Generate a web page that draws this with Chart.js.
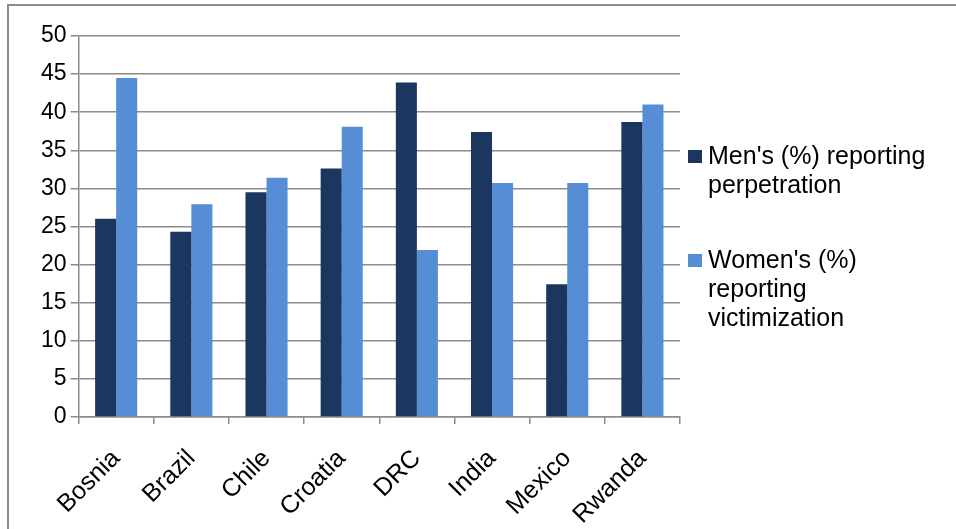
<!DOCTYPE html>
<html>
<head>
<meta charset="utf-8">
<script src="https://cdn.jsdelivr.net/npm/chart.js@4"></script>
<style>
  html, body { margin: 0; padding: 0; background: #fff; }
  #wrap { position: relative; width: 956px; height: 529px; overflow: hidden; }
  #frame { position: absolute; left: 7px; top: 4px; width: 960px; height: 540px; border: 2px solid #8c8c8c; box-sizing: border-box; }
  #box { position: absolute; left: 0; top: 0; width: 956px; height: 550px; }
  #legend { position: absolute; left: 688px; top: 141px; font-family: 'Liberation Sans', Arial, sans-serif; font-size: 25px; line-height: 29px; color: #000; }
  .item { position: relative; padding-left: 20px; margin-bottom: 46px; }
  .sw { position: absolute; left: 0; top: 9px; width: 14px; height: 13px; }
</style>
</head>
<body>
<div id="wrap">
  <div id="frame"></div>
  <div id="box"><canvas id="chart"></canvas></div>
  <div id="legend"></div>
</div>
<script>
// values
var countries = ['Bosnia', 'Brazil', 'Chile', 'Croatia', 'DRC', 'India', 'Mexico', 'Rwanda'];
var menPerpetration = [26.0, 24.3, 29.5, 32.6, 43.9, 37.4, 17.4, 38.7];
var womenVictimization = [44.5, 27.9, 31.4, 38.1, 21.9, 30.7, 30.7, 41.0];
var seriesNames = [["Men's (%) reporting", 'perpetration'], ["Women's (%)", 'reporting', 'victimization']];
var seriesColors = ['#1b365f', '#558ed5'];

var GRID = '#8c8c8c';

new Chart(document.getElementById('chart'), {
  type: 'bar',
  data: {
    labels: countries,
    datasets: [
      { label: seriesNames[0].join(' '), data: menPerpetration, backgroundColor: seriesColors[0] },
      { label: seriesNames[1].join(' '), data: womenVictimization, backgroundColor: seriesColors[1] }
    ]
  },
  options: {
    responsive: true, maintainAspectRatio: false, animation: false,
    categoryPercentage: 0.56, barPercentage: 1.0,
    layout: { padding: { left: 37, right: 276, top: 36, bottom: 0 } },
    plugins: { legend: { display: false }, tooltip: { enabled: false } },
    scales: {
      x: {
        grid: { offset: true, drawOnChartArea: false, color: GRID, tickLength: 7, lineWidth: 1.5 },
        border: { color: GRID, width: 1.5 },
        ticks: { color: '#000', font: { family: 'Liberation Sans', size: 25 }, maxRotation: 45, minRotation: 45, padding: 20 }
      },
      y: {
        min: 0, max: 50,
        grid: { color: GRID, tickLength: 8, lineWidth: 1.5 },
        border: { color: GRID, width: 1.5 },
        ticks: { color: '#000', font: { family: 'Liberation Sans', size: 23 }, stepSize: 5, padding: 4 }
      }
    }
  }
});

// legend as html so the labels can wrap like the original
var leg = document.getElementById('legend');
seriesNames.forEach(function(lines, i) {
  var d = document.createElement('div');
  d.className = 'item';
  d.innerHTML = '<span class="sw" style="background:' + seriesColors[i] + '"></span>' + lines.join('<br>');
  leg.appendChild(d);
});
</script>
</body>
</html>
